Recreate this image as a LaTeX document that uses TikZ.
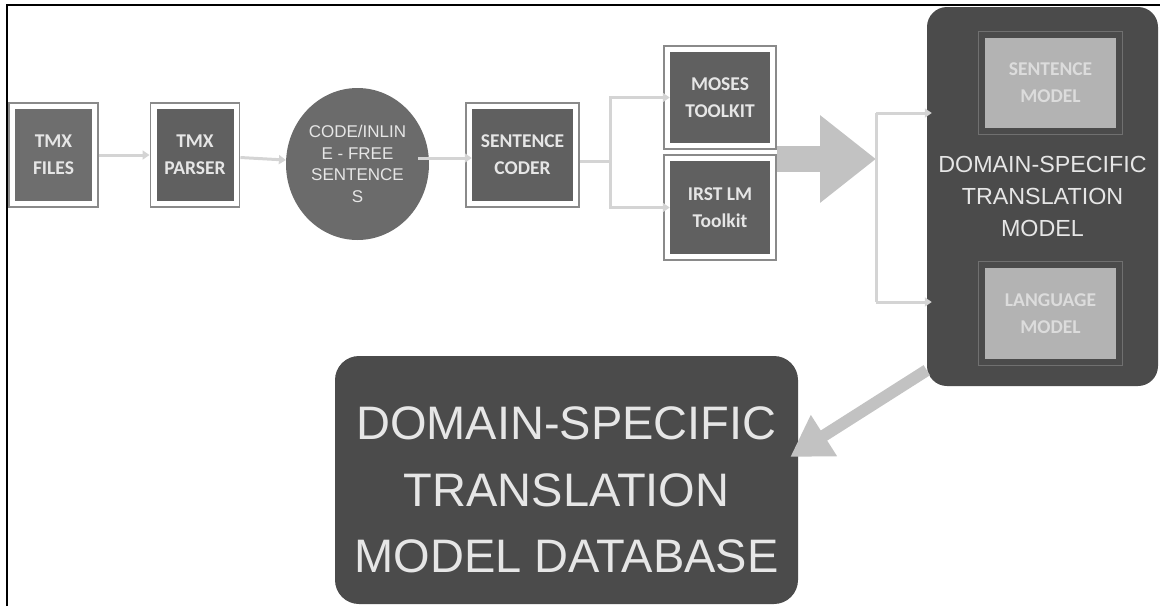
\documentclass[tikz,border=0pt]{standalone}
\usepackage{fontspec}
\setmainfont{Liberation Sans}
\newfontfamily\calfont{Carlito}
\usetikzlibrary{positioning,fit,shapes.geometric,arrows.meta}

\definecolor{procgray}{HTML}{606060}
\definecolor{filegray}{HTML}{6E6E6E}
\definecolor{framegray}{HTML}{8A8A8A}
\definecolor{labelgray}{HTML}{E6E6E6}
\definecolor{flowgray}{HTML}{D4D4D4}
\definecolor{blockgray}{HTML}{C2C2C2}
\definecolor{darkbox}{HTML}{4B4B4B}
\definecolor{modelgray}{HTML}{B3B3B3}
\definecolor{modeltext}{HTML}{DCDCDC}
\definecolor{subframe}{HTML}{707070}
\definecolor{circgray}{HTML}{6B6B6B}

\begin{document}
\begin{tikzpicture}[x=1pt,y=-1pt,
  proc/.style={fill=procgray,text=labelgray,align=center,inner sep=0pt,
    minimum width=100pt,minimum height=92pt,
    font=\calfont\bfseries\fontsize{19.5}{27}\selectfont},
  frame/.style={draw=framegray,line width=1.5pt,inner sep=6pt},
  modelbox/.style={proc,fill=modelgray,text=modeltext,
    minimum width=131pt,minimum height=90pt},
  modelframe/.style={draw=subframe,line width=1pt,inner sep=6pt},
  flowline/.style={draw=flowgray,line width=3pt},
  flow/.style={flowline,-{Triangle[length=7pt,width=9pt]}},
  bigbox/.style={fill=darkbox,rounded corners=20pt,inner sep=0pt},
  bigtext/.style={text=labelgray,align=center,inner sep=0pt}]
  \useasboundingbox (0,0) rectangle (1160,606);
  \draw[line width=2pt] (7,606) -- (7,5) -- (1160,5);

  % pipeline
  \node[proc,fill=filegray,minimum width=77pt] (files) at (53.5,155) {TMX\\FILES};
  \node[proc,minimum width=77pt] (parser) at (195,155) {TMX\\PARSER};
  \node[ellipse,fill=circgray,text=labelgray,align=center,inner sep=0pt,
    minimum width=143pt,minimum height=152pt,
    font=\fontsize{17}{21.5}\selectfont] (circ) at (357.5,164)
    {CODE/INLIN\\E - FREE\\SENTENCE\\S};
  \node[proc,minimum width=101pt] (coder) at (522.5,155) {SENTENCE\\CODER};
  \node[proc,minimum height=91pt] (moses) at (720,97.5) {MOSES\\TOOLKIT};
  \node[proc,minimum height=93pt] (irst) at (720,207.5) {IRST LM\\Toolkit};

  \node[frame,fit=(files)] (filesf) {};
  \node[frame,fit=(parser)] (parserf) {};
  \node[frame,fit=(coder)] (coderf) {};
  \node[frame,fit=(moses)] (mosesf) {};
  \node[frame,fit=(irst)] (irstf) {};

  % translation model
  \node[bigbox,minimum width=231pt,minimum height=379pt,bigtext,
    font=\fontsize{23.3}{32}\selectfont] (tmbox) at (1042.5,196.5)
    {DOMAIN-SPECIFIC\\TRANSLATION\\MODEL};
  \node[modelbox] (sentmodel) at (1050.5,83) {SENTENCE\\MODEL};
  \node[modelbox,minimum height=91pt] (langmodel) at (1050.5,313.5) {LANGUAGE\\MODEL};
  \node[modelframe,fit=(sentmodel)] (sentmodelf) {};
  \node[modelframe,fit=(langmodel)] (langmodelf) {};

  % database
  \node[bigbox,rounded corners=24pt,minimum width=463pt,minimum height=248pt] (db) at (566.5,480) {};
  \node[bigtext,font=\fontsize{47}{66.5}\selectfont] (dbtitle) at ([yshift=-10pt]db.center)
    {DOMAIN-SPECIFIC\\TRANSLATION\\MODEL DATABASE};

  \coordinate (cout) at ([xshift=-11pt,yshift=6pt]circ.east);
  \coordinate (split) at (610,161);
  \coordinate (merge) at (876,159);
  \coordinate (brtop) at (876,113);
  \coordinate (brbot) at (876,302);

  \path (filesf) edge[flow] (parserf)
    (parserf) edge[flow] (circ)
    (cout) edge[flow] (cout -| coder.west);
  \draw[flowline] (coderf.east |- split) -- (split);
  \draw[flow] (split) |- (moses);
  \draw[flow] (split) |- (irst);
  \draw[blockgray,line width=26pt,-{Triangle[length=56pt,width=84pt]}]
    (merge -| irstf.east) -- (merge);
  \draw[flowline] (brtop) -- (brbot);
  \draw[flow,shorten >=-5pt] (brtop) -- (brtop -| tmbox.west);
  \draw[flow,shorten >=-5pt] (brbot) -- (brbot -| tmbox.west);
  \draw[blockgray,line width=12pt,-{Triangle[length=40pt,width=46pt]}]
    ([yshift=16pt]tmbox.south west) -- ([xshift=-8pt,yshift=23pt]db.east);
\end{tikzpicture}
\end{document}
